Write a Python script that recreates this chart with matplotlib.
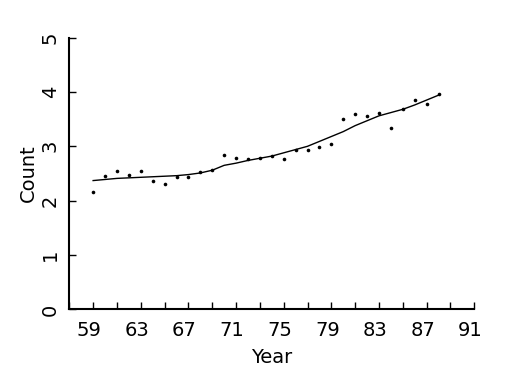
import matplotlib
matplotlib.use("Agg")
import matplotlib.pyplot as plt
import matplotlib.transforms as mtransforms

# data
years = list(range(59, 89))
counts = [2.16, 2.45, 2.55, 2.47, 2.55, 2.37, 2.31, 2.43, 2.43, 2.53,
          2.56, 2.84, 2.78, 2.76, 2.78, 2.82, 2.76, 2.94, 2.93, 2.98,
          3.04, 3.50, 3.59, 3.55, 3.61, 3.33, 3.69, 3.85, 3.78, 3.97]
smooth = [2.37, 2.39, 2.41, 2.42, 2.43, 2.44, 2.45, 2.46, 2.48, 2.51,
          2.56, 2.65, 2.69, 2.74, 2.78, 2.82, 2.88, 2.94, 3.00, 3.09,
          3.18, 3.27, 3.38, 3.47, 3.56, 3.62, 3.68, 3.76, 3.85, 3.94]
xticks = list(range(59, 92, 4))
yticks = [0, 1, 2, 3, 4, 5]

plt.rcParams['font.family'] = ['DejaVu Sans']
plt.rcParams['xtick.direction'] = 'in'
plt.rcParams['ytick.direction'] = 'in'

fig = plt.figure(figsize=(5.25, 3.75), dpi=100)
ax = fig.add_axes([0.132, 0.1747, 0.7714, 0.7253])

ax.plot(years, smooth, color='black', lw=1.0)
ax.plot(years, counts, 'o', color='black', ms=2.6, mew=0)

ax.set_xlim(57, 91)
ax.set_ylim(0, 5)
ax.set_xticks(list(range(57, 92, 2)))
ax.set_xticklabels([str(y) if y in xticks else '' for y in range(57, 92, 2)])
ax.set_yticks(yticks)

for s in ['top', 'right']:
    ax.spines[s].set_visible(False)
for s in ['left', 'bottom']:
    ax.spines[s].set_linewidth(1.5)

ax.tick_params(axis='x', direction='in', length=5, width=1, pad=8,
               labelsize=14)
ax.tick_params(axis='y', direction='in', length=5, width=1, pad=7,
               labelsize=14)
for lab in ax.get_xticklabels():
    lab.set_transform(lab.get_transform() + mtransforms.ScaledTranslation(-4 / 100, 0, fig.dpi_scale_trans))
for lab in ax.get_yticklabels():
    lab.set_rotation(90)
    lab.set_va('center')

ax.set_xlabel('Year', fontsize=14, labelpad=6)
ax.set_ylabel('Count', fontsize=14, labelpad=2)

fig.savefig('out.png', dpi=100)
